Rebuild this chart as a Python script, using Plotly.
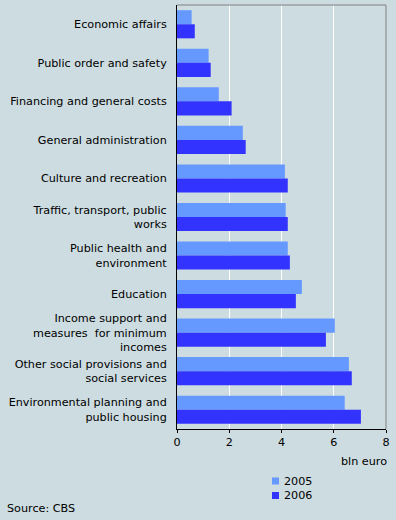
import plotly.graph_objects as go

categories = [
    "Economic affairs",
    "Public order and safety",
    "Financing and general costs",
    "General administration",
    "Culture and recreation",
    "Traffic, transport, public<br>works",
    "Public health and<br>environment",
    "Education",
    "Income support and<br>measures  for minimum<br>incomes",
    "Other social provisions and<br>social services",
    "Environmental planning and<br>public housing",
]
values_2005 = [0.56, 1.21, 1.60, 2.52, 4.13, 4.16, 4.24, 4.78, 6.04, 6.58, 6.42]
values_2006 = [0.68, 1.29, 2.09, 2.63, 4.24, 4.24, 4.32, 4.55, 5.70, 6.69, 7.04]
series_names = ["2005", "2006"]
x_ticks = [0, 2, 4, 6, 8]

BG = "#CDDCE1"
C2005 = "#6699FF"
C2006 = "#3333FF"
FONT = "DejaVu Sans"
FS = 11.2

fig = go.Figure()
fig.add_trace(go.Bar(y=categories, x=values_2005, orientation="h", name=series_names[0],
                     marker=dict(color=C2005, line=dict(width=0)), showlegend=False))
fig.add_trace(go.Bar(y=categories, x=values_2006, orientation="h", name=series_names[1],
                     marker=dict(color=C2006, line=dict(width=0)), showlegend=False))

W, H = 396, 520
ml, mr, mt, mb = 177, 10, 5, 91
pw = W - ml - mr
ph = H - mt - mb

def px_x(x):
    return (x - ml) / pw

def px_y(y):
    return (H - mb - y) / ph

fig.update_layout(
    width=W, height=H,
    margin=dict(l=ml, r=mr, t=mt, b=mb, pad=0),
    paper_bgcolor=BG, plot_bgcolor=BG,
    barmode="group", bargap=0.27, bargroupgap=0,
    font=dict(family=FONT, size=FS, color="#000000"),
    xaxis=dict(range=[0, 8], tickvals=x_ticks, ticktext=[str(t) for t in x_ticks],
               showgrid=True, gridcolor="#FFFFFF", gridwidth=1,
               showline=True, linecolor="#000000", linewidth=1,
               ticks="outside", ticklen=3, tickcolor="#000000",
               zeroline=False, fixedrange=True),
    yaxis=dict(autorange="reversed", showgrid=False,
               showline=True, linecolor="#000000", linewidth=1,
               ticks="", ticklabelstandoff=7, zeroline=False, fixedrange=True),
    showlegend=False,
)

# top and right grey border
fig.add_shape(type="line", xref="paper", yref="paper", x0=0, x1=1, y0=1, y1=1,
              line=dict(color="#808080", width=1))
fig.add_shape(type="line", xref="paper", yref="paper", x0=1, x1=1, y0=0, y1=1,
              line=dict(color="#808080", width=1))

# unit label
fig.add_annotation(text="bln euro", xref="paper", yref="paper", x=px_x(389), y=px_y(462),
                   xanchor="right", yanchor="middle", showarrow=False,
                   font=dict(family=FONT, size=FS))

# legend
for name, col, yc in [(series_names[0], C2005, 481), (series_names[1], C2006, 495.5)]:
    fig.add_shape(type="rect", xref="paper", yref="paper",
                  x0=px_x(272), x1=px_x(279), y0=px_y(yc - 3.5), y1=px_y(yc + 3.5),
                  fillcolor=col, line=dict(width=0))
    fig.add_annotation(text=name, xref="paper", yref="paper", x=px_x(282), y=px_y(yc),
                       xanchor="left", yanchor="middle", showarrow=False,
                       font=dict(family=FONT, size=FS))

fig.add_annotation(text="Source: CBS", xref="paper", yref="paper", x=px_x(5), y=px_y(508),
                   xanchor="left", yanchor="middle", showarrow=False,
                   font=dict(family=FONT, size=FS))

fig.write_html("out.html", config={"displayModeBar": False},
               post_script="document.body.style.margin='0';document.body.style.overflow='hidden';")
